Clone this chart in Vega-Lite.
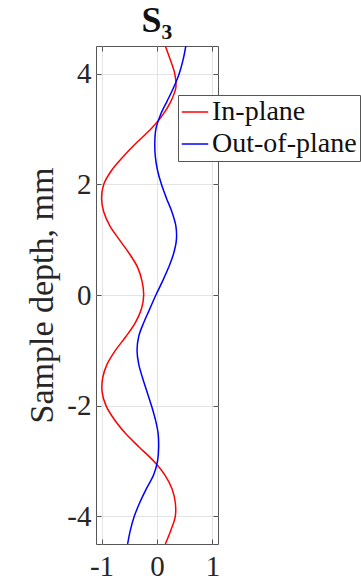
{
  "$schema": "https://vega.github.io/schema/vega-lite/v6.json",
  "width": 122,
  "height": 498,
  "autosize": {"type": "none"},
  "padding": {"left": 96, "top": 46, "right": 143, "bottom": 44},
  "background": "white",
  "config": {
    "font": "Liberation Serif",
    "view": {"stroke": "#555555", "strokeWidth": 1}
  },
  "title": {
    "text": "S₃",
    "font": "Liberation Serif",
    "fontSize": 36,
    "fontWeight": "bold",
    "color": "#111111",
    "anchor": "middle",
    "offset": 3
  },
  "data": {
    "values": [
      {"series": "In-plane", "depth": 4.5, "s": 0.15},
      {"series": "In-plane", "depth": 4.25, "s": 0.24},
      {"series": "In-plane", "depth": 4.0, "s": 0.32},
      {"series": "In-plane", "depth": 3.75, "s": 0.34},
      {"series": "In-plane", "depth": 3.5, "s": 0.25},
      {"series": "In-plane", "depth": 3.25, "s": 0.10},
      {"series": "In-plane", "depth": 3.0, "s": -0.11},
      {"series": "In-plane", "depth": 2.75, "s": -0.37},
      {"series": "In-plane", "depth": 2.5, "s": -0.61},
      {"series": "In-plane", "depth": 2.25, "s": -0.82},
      {"series": "In-plane", "depth": 2.0, "s": -0.96},
      {"series": "In-plane", "depth": 1.75, "s": -1.0},
      {"series": "In-plane", "depth": 1.5, "s": -0.96},
      {"series": "In-plane", "depth": 1.25, "s": -0.85},
      {"series": "In-plane", "depth": 1.0, "s": -0.68},
      {"series": "In-plane", "depth": 0.75, "s": -0.50},
      {"series": "In-plane", "depth": 0.5, "s": -0.35},
      {"series": "In-plane", "depth": 0.25, "s": -0.27},
      {"series": "In-plane", "depth": 0.0, "s": -0.24},
      {"series": "In-plane", "depth": -0.25, "s": -0.28},
      {"series": "In-plane", "depth": -0.5, "s": -0.39},
      {"series": "In-plane", "depth": -0.75, "s": -0.56},
      {"series": "In-plane", "depth": -1.0, "s": -0.75},
      {"series": "In-plane", "depth": -1.25, "s": -0.90},
      {"series": "In-plane", "depth": -1.5, "s": -0.98},
      {"series": "In-plane", "depth": -1.75, "s": -0.99},
      {"series": "In-plane", "depth": -2.0, "s": -0.92},
      {"series": "In-plane", "depth": -2.25, "s": -0.77},
      {"series": "In-plane", "depth": -2.5, "s": -0.57},
      {"series": "In-plane", "depth": -2.75, "s": -0.32},
      {"series": "In-plane", "depth": -3.0, "s": -0.06},
      {"series": "In-plane", "depth": -3.25, "s": 0.14},
      {"series": "In-plane", "depth": -3.5, "s": 0.27},
      {"series": "In-plane", "depth": -3.75, "s": 0.33},
      {"series": "In-plane", "depth": -4.0, "s": 0.33},
      {"series": "In-plane", "depth": -4.25, "s": 0.25},
      {"series": "In-plane", "depth": -4.5, "s": 0.15},
      {"series": "Out-of-plane", "depth": 4.5, "s": 0.52},
      {"series": "Out-of-plane", "depth": 4.25, "s": 0.47},
      {"series": "Out-of-plane", "depth": 4.0, "s": 0.40},
      {"series": "Out-of-plane", "depth": 3.75, "s": 0.30},
      {"series": "Out-of-plane", "depth": 3.5, "s": 0.18},
      {"series": "Out-of-plane", "depth": 3.25, "s": 0.06},
      {"series": "Out-of-plane", "depth": 3.0, "s": -0.02},
      {"series": "Out-of-plane", "depth": 2.75, "s": -0.04},
      {"series": "Out-of-plane", "depth": 2.5, "s": -0.03},
      {"series": "Out-of-plane", "depth": 2.25, "s": 0.01},
      {"series": "Out-of-plane", "depth": 2.0, "s": 0.08},
      {"series": "Out-of-plane", "depth": 1.75, "s": 0.17},
      {"series": "Out-of-plane", "depth": 1.5, "s": 0.27},
      {"series": "Out-of-plane", "depth": 1.25, "s": 0.34},
      {"series": "Out-of-plane", "depth": 1.0, "s": 0.35},
      {"series": "Out-of-plane", "depth": 0.75, "s": 0.30},
      {"series": "Out-of-plane", "depth": 0.5, "s": 0.21},
      {"series": "Out-of-plane", "depth": 0.25, "s": 0.10},
      {"series": "Out-of-plane", "depth": 0.0, "s": -0.02},
      {"series": "Out-of-plane", "depth": -0.25, "s": -0.13},
      {"series": "Out-of-plane", "depth": -0.5, "s": -0.24},
      {"series": "Out-of-plane", "depth": -0.75, "s": -0.33},
      {"series": "Out-of-plane", "depth": -1.0, "s": -0.36},
      {"series": "Out-of-plane", "depth": -1.25, "s": -0.33},
      {"series": "Out-of-plane", "depth": -1.5, "s": -0.26},
      {"series": "Out-of-plane", "depth": -1.75, "s": -0.18},
      {"series": "Out-of-plane", "depth": -2.0, "s": -0.10},
      {"series": "Out-of-plane", "depth": -2.25, "s": -0.03},
      {"series": "Out-of-plane", "depth": -2.5, "s": 0.02},
      {"series": "Out-of-plane", "depth": -2.75, "s": 0.03},
      {"series": "Out-of-plane", "depth": -3.0, "s": 0.01},
      {"series": "Out-of-plane", "depth": -3.25, "s": -0.06},
      {"series": "Out-of-plane", "depth": -3.5, "s": -0.19},
      {"series": "Out-of-plane", "depth": -3.75, "s": -0.31},
      {"series": "Out-of-plane", "depth": -4.0, "s": -0.41},
      {"series": "Out-of-plane", "depth": -4.25, "s": -0.48},
      {"series": "Out-of-plane", "depth": -4.5, "s": -0.53}
    ]
  },
  "layer": [
    {
      "mark": {"type": "line", "interpolate": "catmull-rom", "strokeWidth": 1.5, "clip": true},
      "encoding": {
        "x": {
          "field": "s", "type": "quantitative",
          "scale": {"domain": [-1.1, 1.1], "nice": false, "zero": false},
          "axis": {
            "orient": "bottom", "title": null, "values": [-1, 0, 1],
            "labelExpr": "datum.value", "labelFont": "Liberation Serif", "labelFontSize": 29,
            "labelColor": "#262626", "labelPadding": 13,
            "domain": false, "tickSize": -5, "tickColor": "#555555",
            "grid": true, "gridColor": "#e3e3e3", "gridWidth": 1
          }
        },
        "y": {
          "field": "depth", "type": "quantitative",
          "scale": {"domain": [-4.5, 4.5], "nice": false, "zero": false},
          "axis": {
            "orient": "left", "title": "Sample depth, mm", "values": [-4, -2, 0, 2, 4],
            "labelExpr": "datum.value", "labelFont": "Liberation Serif", "labelFontSize": 29,
            "labelColor": "#262626", "labelPadding": 10,
            "titleFont": "Liberation Serif", "titleFontSize": 34, "titleFontWeight": "normal",
            "titleColor": "#262626", "titlePadding": 7,
            "domain": false, "tickSize": -5, "tickColor": "#555555",
            "grid": true, "gridColor": "#e3e3e3", "gridWidth": 1
          }
        },
        "order": {"field": "depth", "type": "quantitative"},
        "color": {
          "field": "series", "type": "nominal",
          "scale": {"domain": ["In-plane", "Out-of-plane"], "range": ["#ff0000", "#0000ff"]},
          "legend": {
            "title": null, "orient": "none", "legendX": 82, "legendY": 49,
            "symbolType": "stroke", "symbolSize": 700, "symbolStrokeWidth": 1.5,
            "labelFont": "Liberation Serif", "labelFontSize": 28, "labelColor": "#111111",
            "labelOffset": 3, "rowPadding": 4, "padding": 3,
            "fillColor": "white", "strokeColor": "#555555"
          }
        }
      }
    },
    {
      "mark": {"type": "point", "opacity": 0},
      "encoding": {
        "x": {
          "field": "s", "type": "quantitative",
          "axis": {"orient": "top", "title": null, "values": [-1, 0, 1], "labels": false,
                   "domain": false, "tickSize": -5, "tickColor": "#555555", "grid": false}
        },
        "y": {
          "field": "depth", "type": "quantitative",
          "axis": {"orient": "right", "title": null, "values": [-4, -2, 0, 2, 4], "labels": false,
                   "domain": false, "tickSize": -5, "tickColor": "#555555", "grid": false}
        }
      }
    }
  ],
  "resolve": {"axis": {"x": "independent", "y": "independent"}}
}
